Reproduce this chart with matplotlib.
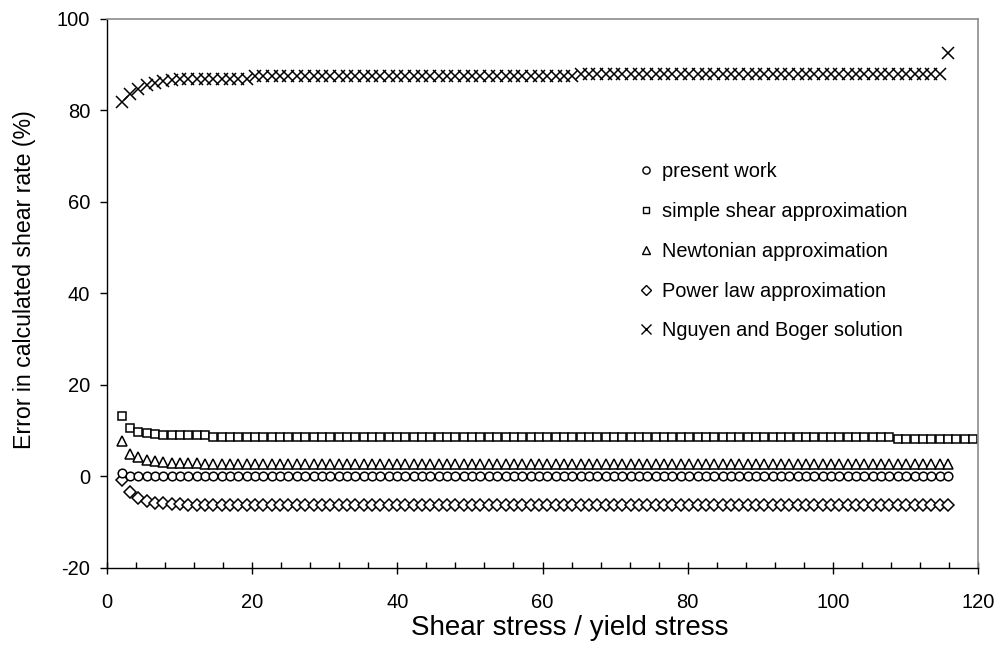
#!/usr/bin/env python3
"""Error in calculated shear rate vs. shear stress / yield stress."""

import matplotlib

matplotlib.use("Agg")
import matplotlib.pyplot as plt
from matplotlib.ticker import MultipleLocator

plt.rcParams["font.family"] = ["Liberation Sans", "DejaVu Sans"]
plt.rcParams["axes.unicode_minus"] = False

# shear stress / yield stress sample points
stress_ratio = [
    2.00, 3.15, 4.30, 5.45, 6.60, 7.75, 8.90, 10.05, 11.20, 12.35,
    13.50, 14.65, 15.80, 16.95, 18.10, 19.25, 20.40, 21.55, 22.70, 23.85,
    25.00, 26.15, 27.30, 28.45, 29.60, 30.75, 31.90, 33.05, 34.20, 35.35,
    36.50, 37.65, 38.80, 39.95, 41.10, 42.25, 43.40, 44.55, 45.70, 46.85,
    48.00, 49.15, 50.30, 51.45, 52.60, 53.75, 54.90, 56.05, 57.20, 58.35,
    59.50, 60.65, 61.80, 62.95, 64.10, 65.25, 66.40, 67.55, 68.70, 69.85,
    71.00, 72.15, 73.30, 74.45, 75.60, 76.75, 77.90, 79.05, 80.20, 81.35,
    82.50, 83.65, 84.80, 85.95, 87.10, 88.25, 89.40, 90.55, 91.70, 92.85,
    94.00, 95.15, 96.30, 97.45, 98.60, 99.75, 100.90, 102.05, 103.20, 104.35,
    105.50, 106.65, 107.80, 108.95, 110.10, 111.25, 112.40, 113.55, 114.70, 115.85,
    117.00, 118.15, 119.30,
]

# errors (%); long flat stretches written as repeats
present_work = [0.7, 0.1] + [0.0] * 98
simple_shear = (
    [13.2, 10.6, 9.7, 9.3, 9.2, 9.0, 9.0, 9.0, 8.9, 8.9, 8.9]
    + [8.6] * 82
    + [8.0] * 10
)
newtonian = [7.6, 4.8, 4.1, 3.5, 3.2, 3.0, 2.9, 2.9, 2.8, 2.8] + [2.7] * 90
power_law = [-0.9, -3.6, -4.7, -5.4, -5.8, -6.0, -6.1, -6.2] + [-6.4] * 92
nguyen_boger = (
    [81.8, 83.6, 84.5, 85.5, 86.0, 86.4, 86.6, 86.7, 86.8, 86.8,
     86.8, 86.8, 86.8, 86.8, 86.8, 86.8]
    + [87.4] * 39
    + [87.8] * 44
    + [92.5]
)

# label, values, marker, size (pt), zorder
SERIES = [
    ("simple shear approximation", simple_shear, "s", 6.3, 1),
    ("Newtonian approximation", newtonian, "^", 6.6, 2),
    ("present work", present_work, "o", 6.2, 3),
    ("Power law approximation", power_law, "D", 6.2, 2),
    ("Nguyen and Boger solution", nguyen_boger, "x", 8.5, 2),
]
LEGEND_ORDER = [
    "present work",
    "simple shear approximation",
    "Newtonian approximation",
    "Power law approximation",
    "Nguyen and Boger solution",
]
LEGEND_SIZE = {"o": 5.2, "s": 5.0, "^": 5.6, "D": 4.6, "x": 6.5}


def main() -> None:
    fig = plt.figure(figsize=(10.02, 6.52), dpi=100)
    ax = fig.add_axes([0.1068, 0.1296, 0.8693, 0.842])

    handles = {}
    for label, values, marker, size, z in SERIES:
        xs = stress_ratio[: len(values)]
        (line,) = ax.plot(
            xs,
            values,
            linestyle="none",
            marker=marker,
            markersize=size,
            markerfacecolor="white",
            markeredgecolor="black",
            markeredgewidth=1.1,
            color="black",
            zorder=z,
            label=label,
        )
        handles[label] = line

    ax.set_xlim(0, 120)
    ax.set_ylim(-20, 100)
    ax.xaxis.set_major_locator(MultipleLocator(20))
    ax.xaxis.set_minor_locator(MultipleLocator(4))
    ax.yaxis.set_major_locator(MultipleLocator(20))
    ax.tick_params(axis="x", which="major", direction="inout", length=9, width=1, labelsize=14.5, pad=13.5)
    ax.tick_params(axis="x", which="minor", direction="in", length=4, width=1)
    ax.tick_params(axis="y", which="major", direction="out", length=5, width=1, labelsize=14.5, pad=7)

    for side in ("top", "right"):
        ax.spines[side].set_color("#8c8c8c")
        ax.spines[side].set_linewidth(1.2)
    for side in ("left", "bottom"):
        ax.spines[side].set_color("black")
        ax.spines[side].set_linewidth(1.0)

    ax.set_xlabel("Shear stress / yield stress", fontsize=20)
    ax.xaxis.set_label_coords(0.5316, -0.086)
    ax.set_ylabel("Error in calculated shear rate (%)", fontsize=16.7)
    ax.yaxis.set_label_coords(-0.082, 0.5237)

    leg_handles = []
    for label in LEGEND_ORDER:
        marker = handles[label].get_marker()
        leg_handles.append(
            plt.Line2D(
                [], [], linestyle="none", marker=marker, markersize=LEGEND_SIZE[marker],
                markerfacecolor="white", markeredgecolor="black", markeredgewidth=1.0,
            )
        )
    ax.legend(
        leg_handles,
        LEGEND_ORDER,
        loc="upper left",
        bbox_to_anchor=(0.6, 0.753),
        frameon=False,
        fontsize=14.4,
        handlelength=0.8,
        handletextpad=0.4,
        labelspacing=1.04,
        borderaxespad=0,
    )

    fig.savefig("out.png")
    plt.close(fig)


if __name__ == "__main__":
    main()
